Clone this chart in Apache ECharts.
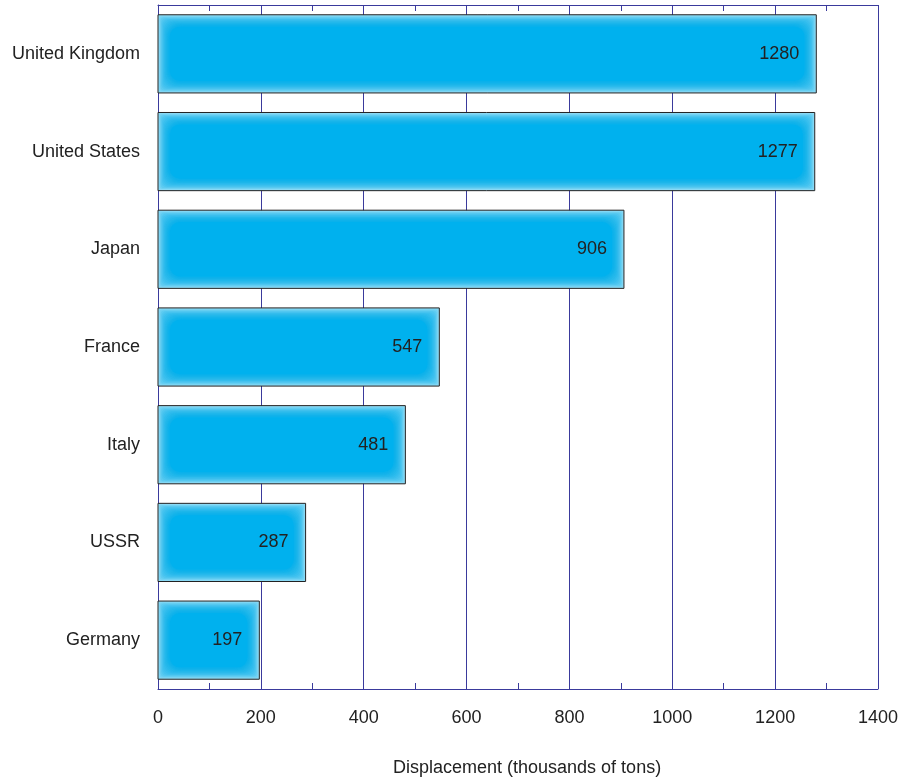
<!DOCTYPE html>
<html>
<head>
<meta charset="utf-8">
<script src="https://cdn.jsdelivr.net/npm/echarts@6/dist/echarts.min.js"></script>
<style>html,body{margin:0;padding:0;background:#fff}#c{width:903px;height:780px}</style>
</head>
<body>
<div id="c"></div>
<script>
var categories = ["United Kingdom", "United States", "Japan", "France", "Italy", "USSR", "Germany"];
var values = [1280, 1277, 906, 547, 481, 287, 197];
var xTicks = [0, 200, 400, 600, 800, 1000, 1200, 1400];
var axisTitle = "Displacement (thousands of tons)";

var FONT = "Liberation Sans, Arial, Helvetica, sans-serif";
var NAVY = "#3a3a9c";
var chart = echarts.init(document.getElementById('c'), null, {renderer: 'canvas'});

var data = values.map(function (v, i) { return [v, i]; });

var xAxisCommon = {
  type: 'value', min: xTicks[0], max: xTicks[xTicks.length - 1], interval: 200,
  axisLine: {show: true, lineStyle: {color: NAVY, width: 1}},
  axisTick: {show: true, inside: true, length: 6, lineStyle: {color: NAVY, width: 1}},
  minorTick: {show: true, splitNumber: 2, length: 6, lineStyle: {color: NAVY, width: 1}},
  minorSplitLine: {show: false}
};

var option = {
  animation: false,
  grid: {left: 158, right: 25, top: 5, bottom: 91, containLabel: false},
  xAxis: [Object.assign({}, xAxisCommon, {
    position: 'bottom',
    splitLine: {show: true, lineStyle: {color: NAVY, width: 1}},
    axisLabel: {color: '#222', fontFamily: FONT, fontSize: 18, margin: 20,
      formatter: function (v) { return String(v); }}
  }), Object.assign({}, xAxisCommon, {
    position: 'top',
    splitLine: {show: false},
    axisLabel: {show: false}
  })],
  yAxis: {
    type: 'category', data: categories, inverse: true,
    axisLine: {show: true, lineStyle: {color: NAVY, width: 1}},
    axisTick: {show: false},
    splitLine: {show: false},
    axisLabel: {color: '#222', fontFamily: FONT, fontSize: 18, margin: 18}
  },
  graphic: [{
    type: 'text', left: 528 - 135, top: 759,
    style: {text: axisTitle, fill: '#222', font: '18px ' + FONT}
  }],
  series: [{
    type: 'custom',
    xAxisIndex: 0,
    data: data,
    encode: {x: 0, y: 1},
    renderItem: function (params, api) {
      var v = api.value(0), idx = api.value(1);
      var p0 = api.coord([0, idx]);
      var p1 = api.coord([v, idx]);
      var bh = api.size([0, 1])[1] * 0.8;
      var x0 = p0[0], x1 = p1[0], y0 = p0[1] - bh / 2;
      var w = x1 - x0;
      var children = [{
        type: 'rect',
        shape: {x: x0, y: y0, width: w, height: bh},
        style: {fill: '#b4e8fa'}
      }];
      var steps = 14, d = 0.85;
      for (var i = 0; i < steps; i++) {
        var ins = i * d;
        children.push({
          type: 'rect',
          shape: {x: x0 + ins, y: y0 + ins, width: w - 2 * ins, height: bh - 2 * ins, r: Math.min(i * 1.2, 12)},
          style: {fill: 'rgba(0,177,238,0.15)'}
        });
      }
      var fin = steps * d;
      children.push({
        type: 'rect',
        shape: {x: x0 + fin, y: y0 + fin, width: w - 2 * fin, height: bh - 2 * fin, r: 10},
        style: {fill: '#00b1ee', shadowBlur: 6, shadowColor: 'rgba(0,177,238,0.8)'}
      });
      children.push({
        type: 'rect',
        shape: {x: x0, y: y0, width: w, height: bh},
        style: {fill: 'none', stroke: '#222', lineWidth: 1}
      });
      children.push({
        type: 'text',
        style: {
          x: x1 - 17, y: p1[1], text: String(v), align: 'right', verticalAlign: 'middle',
          fill: '#222', font: '18px ' + FONT
        }
      });
      return {type: 'group', children: children};
    }
  }]
};
chart.setOption(option);
</script>
</body>
</html>
